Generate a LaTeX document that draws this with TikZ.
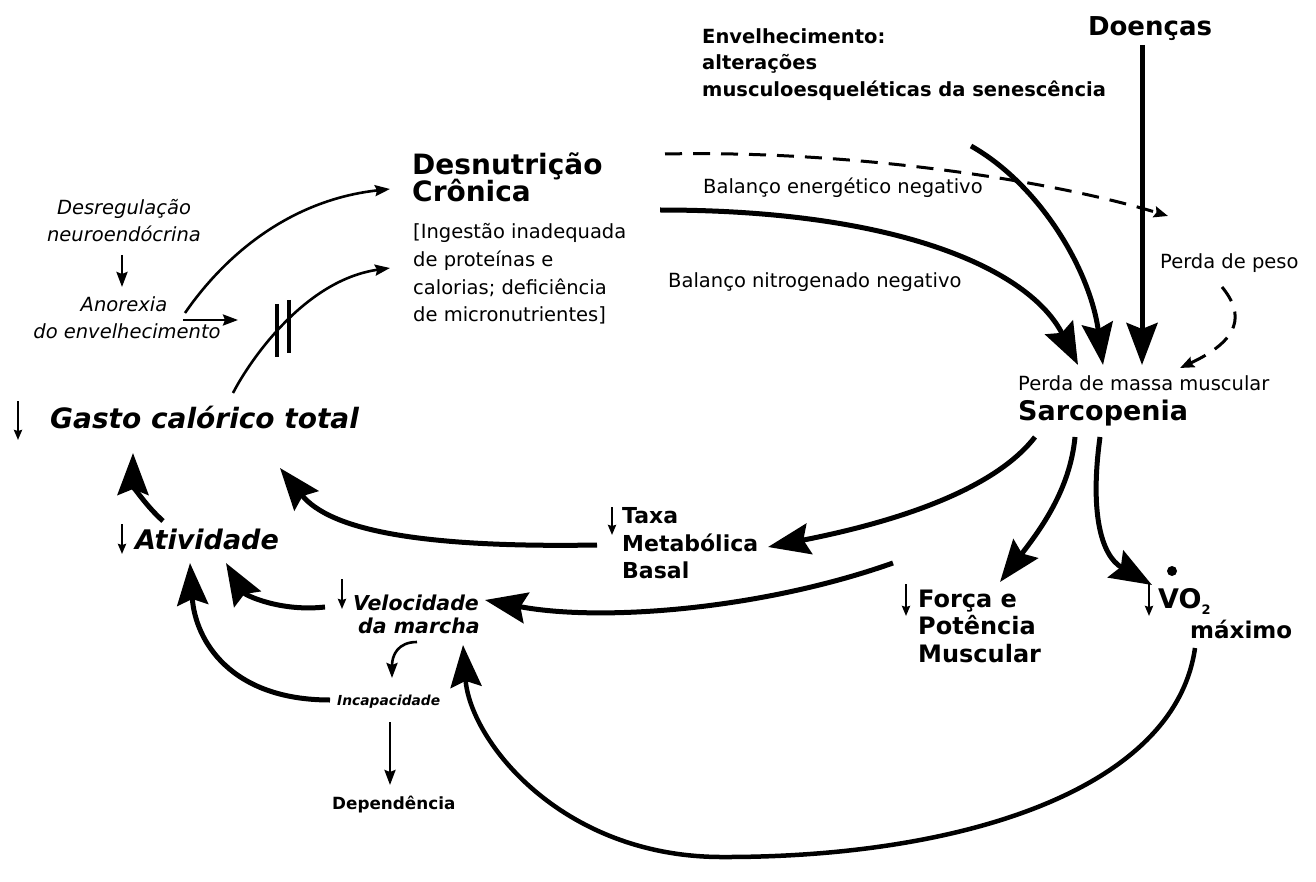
\documentclass[tikz,border=0pt]{standalone}
\usepackage{fontspec}
\setmainfont{DejaVu Sans}
\usetikzlibrary{arrows.meta}
\begin{document}
\begin{tikzpicture}[x=1pt,y=-1pt,
  txt/.style={inner sep=0pt, anchor=base west},
  reg/.style={txt, font=\fontsize{19.5}{23}\selectfont},
  itl/.style={txt, anchor=base, font=\fontsize{19.5}{23}\selectfont\itshape},
  bd/.style={txt, font=\fontsize{#1}{#1}\selectfont\bfseries},
  bi/.style={txt, font=\fontsize{#1}{#1}\selectfont\bfseries\itshape},
  bigarrow/.style={line width=5pt, -{Stealth[length=42pt,width=31pt,inset=6pt]}},
  looparrow/.style={line width=4.5pt, -{Stealth[length=42pt,width=31pt,inset=6pt]}},
  thinarrow/.style={line width=2.6pt, -{Stealth[length=15pt,width=11pt,inset=2pt]}},
  smallarrow/.style={line width=2.4pt, -{Stealth[length=10pt,width=8pt,inset=1pt]}},
  dasharrow/.style={line width=3pt, dash pattern=on 17pt off 11pt, -{Stealth[length=14pt,width=11pt,inset=2pt]}},
]
\useasboundingbox (0,0) rectangle (1316,882);

% ---------- texts ----------
\node[bd=26, anchor=base] (doen) at (1150,36) {Doenças};
\node[bd=19.5] (env1) at (702,44) {Envelhecimento:};
\node[bd=19.5] (env2) at (702,70) {alterações};
\node[bd=19.5] (env3) at (702,97) {musculoesqueléticas da senescência};

\node[bd=28] (desn1) at (412,175) {Desnutrição};
\node[bd=28] (desn2) at (412,202) {Crônica};
\node[reg] (ing1) at (413,239) {[Ingestão inadequada};
\node[reg] (ing2) at (413,267) {de proteínas e};
\node[reg] (ing3) at (413,295) {calorias; deficiência};
\node[reg] (ing4) at (413,322) {de micronutrientes]};

\node[itl] (desr1) at (124,215) {Desregulação};
\node[itl] (desr2) at (124,242) {neuroendócrina};
\node[itl] (anor1) at (124,312) {Anorexia};
\node[itl] (anor2) at (127,338) {do envelhecimento};

\node[bi=28] (gasto) at (50,428) {Gasto calórico total};
\node[bi=27] (ativ) at (135,549) {Atividade};

\node[reg] (bal1) at (703,194) {Balanço energético negativo};
\node[reg] (bal2) at (668,288) {Balanço nitrogenado negativo};
\node[reg] (peso) at (1160,269) {Perda de peso};
\node[reg] (massa) at (1018,390) {Perda de massa muscular};
\node[bd=27] (sarc) at (1018,420) {Sarcopenia};

\node[bd=22] (taxa1) at (622,523) {Taxa};
\node[bd=22] (taxa2) at (622,551) {Metabólica};
\node[bd=22] (taxa3) at (622,578) {Basal};

\node[bi=20.5] (vel1) at (353,610) {Velocidade};
\node[bi=20.5] (vel2) at (358,633) {da marcha};
\node[bi=13.8] (incap) at (337,705) {Incapacidade};
\node[bd=16.8] (dep) at (332,809) {Dependência};

\node[bd=24] (forca1) at (918,607) {Força e};
\node[bd=24] (forca2) at (918,634) {Potência};
\node[bd=24] (forca3) at (918,662) {Muscular};

\node[bd=27] (vo2) at (1158,608) {VO\raisebox{-6pt}{\fontsize{13}{13}\selectfont 2}};
\node[bd=23] (vomax) at (1190,638) {máximo};
\fill (1172,571) circle[radius=5pt];

% ---------- small decrease arrows ----------
\draw[smallarrow] (18,401) -- (18,440);
\draw[smallarrow] (122,524) -- (122,554);
\draw[smallarrow] (342,579) -- (342,609);
\draw[smallarrow] (612,507) -- (612,535);
\draw[smallarrow] (906,584) -- (906,616);
\draw[smallarrow] (1149,583) -- (1149,616);

% ---------- connector end points ----------
\coordinate (a1s) at (185,313);
\coordinate (a1e) at (390,189);
\coordinate (a2s) at (233,393);
\coordinate (a2e) at (390,268);
\coordinate (hs) at (183,320);
\coordinate (he) at (238,320);
\coordinate (ds) at (122,255);
\coordinate (de) at (122,287);
\coordinate (dashs) at (665,154);
\coordinate (dashe) at (1168,216);
\coordinate (pesos) at (1222,287);
\coordinate (pesoe) at (1180,368);
\coordinate (nits) at (660,210);
\coordinate (nite) at (1078,365);
\coordinate (envs) at (971,146);
\coordinate (enve) at (1103,365);
\coordinate (doens) at (1142,45);
\coordinate (doene) at (1142,365);
\coordinate (s1) at (1035,437);
\coordinate (s2) at (1075,437);
\coordinate (s3) at (1100,437);
\coordinate (taxae) at (768,547);
\coordinate (forcae) at (1000,582);
\coordinate (vo2e) at (1152,585);
\coordinate (taxas) at (597,545);
\coordinate (gastoe) at (280,468);
\coordinate (ativs) at (163,521);
\coordinate (ative) at (133,453);
\coordinate (vels) at (325,607);
\coordinate (vele) at (226,563);
\coordinate (forcas) at (893,563);
\coordinate (forcaend) at (485,600);
\coordinate (incs) at (330,700);
\coordinate (ince) at (190,563);
\coordinate (vos) at (1195,648);
\coordinate (voe) at (463,645);
\coordinate (vis) at (417,642);
\coordinate (vie) at (392,678);
\coordinate (deps) at (390,722);
\coordinate (depe) at (390,785);

% ---------- connectors ----------
\draw[thinarrow] (a1s) .. controls (225,255) and (290,200) .. (a1e);
\draw[thinarrow] (a2s) .. controls (250,360) and (305,280) .. (a2e);
\draw[line width=3.5pt] (277,304) -- (277,357);
\draw[line width=3.5pt] (289,300) -- (289,353);
\draw[thinarrow] (hs) -- (he);
\draw[thinarrow] (ds) -- (de);

\draw[dasharrow] (dashs) .. controls (850,150) and (1050,180) .. (dashe);
\draw[dasharrow] (pesos) .. controls (1245,315) and (1240,340) .. (pesoe);

\draw[bigarrow] (nits) .. controls (900,210) and (1030,270) .. (nite);
\draw[bigarrow] (envs) .. controls (1040,185) and (1090,270) .. (enve);
\draw[bigarrow] (doens) -- (doene);

\draw[bigarrow] (s1) .. controls (990,495) and (880,525) .. (taxae);
\draw[bigarrow] (s2) .. controls (1070,490) and (1040,530) .. (forcae);
\draw[bigarrow] (s3) .. controls (1090,510) and (1100,555) .. (vo2e);

\draw[bigarrow] (taxas) .. controls (420,548) and (330,530) .. (gastoe);
\draw[bigarrow] (ativs) .. controls (145,505) and (133,485) .. (ative);
\draw[bigarrow] (vels) .. controls (280,612) and (245,595) .. (vele);
\draw[bigarrow] (forcas) .. controls (760,610) and (600,622) .. (forcaend);
\draw[bigarrow] (incs) .. controls (230,700) and (195,640) .. (ince);
\draw[looparrow] (vos) .. controls (1175,790) and (960,858) .. (720,857)
                 .. controls (560,856) and (470,740) .. (voe);
\draw[thinarrow] (vis) .. controls (398,642) and (392,655) .. (vie);
\draw[thinarrow] (deps) -- (depe);
\end{tikzpicture}
\end{document}
